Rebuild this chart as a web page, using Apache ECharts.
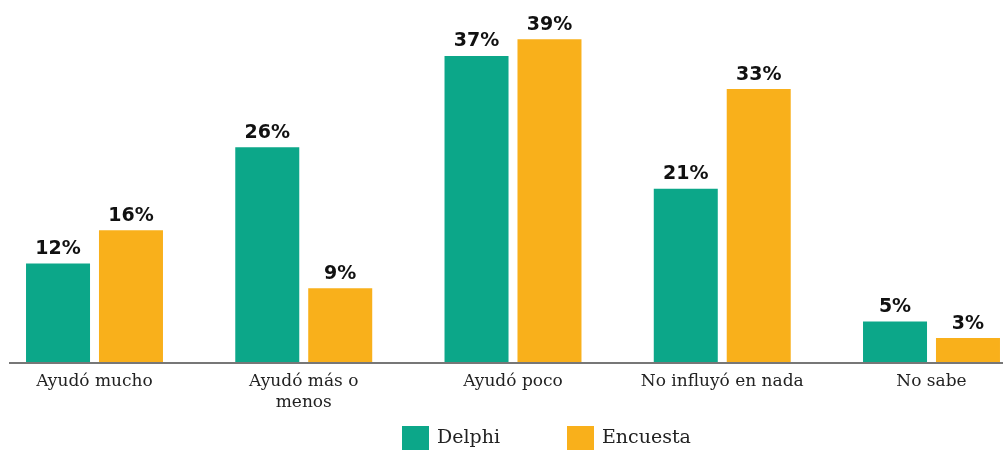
<!DOCTYPE html>
<html>
<head>
<meta charset="utf-8">
<script src="https://cdn.jsdelivr.net/npm/echarts@6/dist/echarts.min.js"></script>
<style>
  html, body { margin: 0; padding: 0; background: #ffffff; }
  #chart { width: 1003px; height: 450px; }
</style>
</head>
<body>
<div id="chart"></div>
<script>
// Categories and percentages per source
const categories = ['Ayudó mucho', 'Ayudó más o\nmenos', 'Ayudó poco', 'No influyó en nada', 'No sabe'];
const delphi = [12, 26, 37, 21, 5];
const encuesta = [16, 9, 39, 33, 3];
const seriesNames = ['Delphi', 'Encuesta'];

const GREEN = '#0ca789';
const ORANGE = '#f9b01b';
const labelFont = '"DejaVu Serif", serif';
const valueFont = '"DejaVu Sans", sans-serif';

const chart = echarts.init(document.getElementById('chart'), null, { renderer: 'canvas' });

const valueLabel = {
  show: true,
  position: 'top',
  distance: 5,
  formatter: '{c}%',
  fontFamily: valueFont,
  fontWeight: 'bold',
  fontSize: 19,
  color: '#111111'
};

function legendFor(name, left) {
  return {
    data: [name],
    left: left,
    top: 426,
    padding: 0,
    icon: 'rect',
    itemWidth: 27,
    itemHeight: 24,
    selectedMode: false,
    textStyle: { fontFamily: labelFont, fontSize: 19, color: '#222222', padding: [0, 0, 0, 3] }
  };
}

chart.setOption({
  animation: false,
  legend: [legendFor(seriesNames[0], 402), legendFor(seriesNames[1], 567)],
  // Category points sit on the grid edges (boundaryGap off), one band apart
  grid: { left: 94.5, right: 71.5, top: 31, bottom: 87, containLabel: false },
  xAxis: {
    type: 'category',
    data: categories,
    boundaryGap: false,
    axisLine: { show: false },
    axisTick: { show: false },
    axisLabel: {
      margin: 8,
      fontFamily: labelFont,
      fontSize: 17,
      lineHeight: 21,
      color: '#222222',
      interval: 0
    }
  },
  yAxis: {
    type: 'value',
    min: 0,
    max: 40,
    show: false,
    splitLine: { show: false }
  },
  graphic: [{
    type: 'line',
    shape: { x1: 9, y1: 363, x2: 1003, y2: 363 },
    style: { stroke: '#777777', lineWidth: 2 },
    z: 10
  }],
  series: [
    {
      name: seriesNames[0],
      type: 'bar',
      data: delphi,
      barWidth: 64,
      barGap: '14%',
      itemStyle: { color: GREEN },
      label: valueLabel
    },
    {
      name: seriesNames[1],
      type: 'bar',
      data: encuesta,
      barWidth: 64,
      barGap: '14%',
      itemStyle: { color: ORANGE },
      label: valueLabel
    }
  ]
});
</script>
</body>
</html>
